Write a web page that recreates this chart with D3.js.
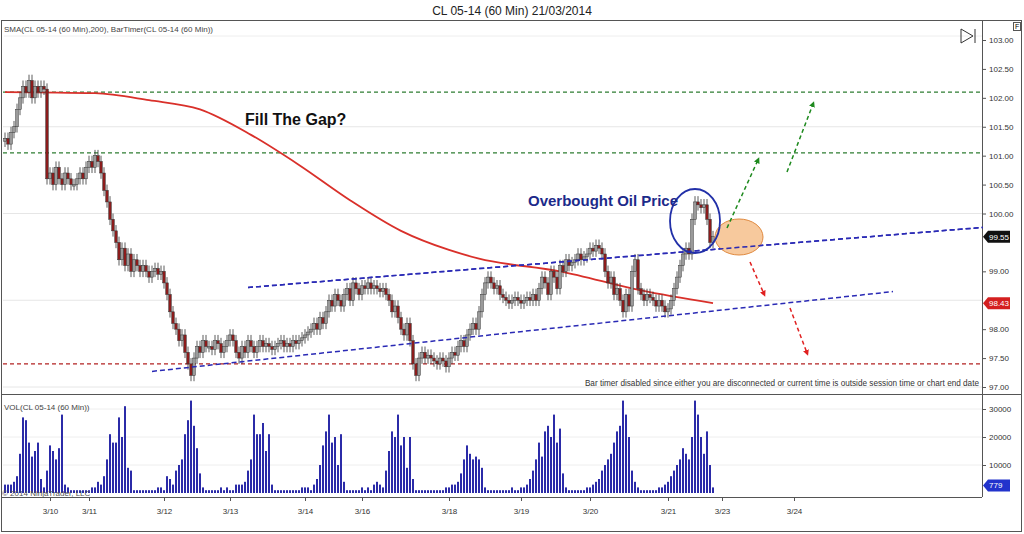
<!DOCTYPE html>
<html><head><meta charset="utf-8">
<script src="https://cdn.jsdelivr.net/npm/d3@7"></script>
<style>body{margin:0;background:#fff;font-family:Arial,"Liberation Sans",sans-serif}</style>
</head><body><svg id="c" width="1024" height="534"></svg>
<script>
const closes=[101.3,101.2,101.4,101.5,101.8,102.0,102.2,102.1,102.3,102.0,102.2,102.1,102.2,102.15,
100.6,100.7,100.5,100.8,100.6,100.5,100.7,100.6,100.5,100.5,100.6,100.7,100.6,100.8,100.9,100.8,101.0,100.9,100.7,
100.4,100.2,99.9,99.7,99.5,99.2,99.4,99.1,99.3,99.0,99.2,99.1,99.0,
99.1,99.0,98.9,99.0,99.05,98.95,99.0,98.8,
98.6,98.3,98.1,98.0,97.8,97.9,97.6,97.4,97.2,97.5,
97.7,97.6,97.8,97.7,97.7,97.65,97.8,97.75,97.6,97.7,97.8,97.9,97.8,97.6,97.5,97.7,97.6,97.8,97.7,97.6,97.7,97.8,
97.7,97.75,97.7,97.65,97.7,97.75,97.8,97.7,97.75,97.7,97.8,97.75,97.8,97.85,97.9,97.95,98.0,98.1,98.0,98.2,98.1,
98.3,98.5,98.4,98.6,98.5,98.4,98.6,98.7,98.5,98.8,98.7,98.6,
98.75,98.7,98.8,98.7,98.75,98.7,98.65,98.7,98.6,98.5,98.3,98.4,
98.2,98.0,97.9,98.1,97.8,97.4,97.2,97.5,
97.6,97.5,97.55,97.5,97.45,97.4,97.5,97.45,97.35,97.5,97.6,97.55,97.7,97.8,97.7,97.9,98.0,
98.1,98.0,98.3,98.6,98.8,98.9,98.8,98.7,98.75,98.6,
98.55,98.5,98.45,98.5,98.55,98.5,98.45,98.5,98.55,98.5,98.6,98.5,98.7,98.9,98.8,
98.6,99.0,98.9,98.7,99.1,99.0,99.2,99.1,
99.15,99.2,99.3,99.2,99.25,99.3,99.4,99.35,99.45,99.4,99.3,99.0,
98.8,98.9,98.6,98.7,98.5,98.3,98.6,98.4,99.0,99.2,98.7,
98.6,98.5,98.6,98.55,98.5,98.4,98.5,98.4,98.3,98.35,
98.5,98.7,98.9,99.1,99.3,99.4,99.3,99.9,100.2,100.15,100.1,100.15,99.9,99.5,99.6];
const volumes=[3,3,3,4,6,14,27,26,18,13,15,18,5,2,8,17,15,12,16,28,3,2,1,1,1,1,1,1,1,2,
2,4,3,6,12,21,18,18,27,20,31,9,8,1,1,1,1,1,1,1,1,2,2,1,6,5,3,8,10,12,
21,26,33,24,16,7,2,1,1,1,1,1,2,1,2,1,1,3,3,3,4,8,12,28,21,21,25,15,21,3,
1,1,1,1,1,1,1,1,1,2,2,2,1,3,5,10,17,22,28,18,20,10,21,4,1,1,1,1,1,2,
1,2,1,3,4,3,2,8,15,22,20,28,17,20,9,20,5,1,1,1,1,1,1,1,1,1,1,2,2,3,
3,4,7,12,17,14,12,13,12,9,2,1,1,1,1,1,1,1,1,2,1,1,2,2,3,5,8,12,18,13,
22,24,20,28,18,23,7,2,1,1,1,1,1,1,2,2,3,4,5,8,10,12,14,18,22,24,33,28,20,8,
4,2,1,1,1,1,1,1,2,2,3,4,6,8,10,12,16,14,12,20,33,28,20,14,22,10,2];
const dateLabels=["3/10","3/11","3/12","3/13","3/14","3/16","3/18","3/19","3/20","3/21","3/23","3/24"];
const dateIdx=[15,28,53,75,100,119,148,172,195,221,239,263];
const smaIdx=[0,30,48,65,82,98,115,132,148,158,185,212,236];
const smaVal=[102.1,102.08,101.96,101.8,101.36,100.84,100.23,99.7,99.37,99.22,99.0,98.67,98.45];
const priceTicks=[103,102.5,102,101.5,101,100.5,100,99,98,97.5,97];
const gridPrices=[101.5,100,98.5,97];
const volTicks=[30000,20000,10000];
const levels=[{p:102.1,c:"#2e7d32"},{p:101.05,c:"#2e7d32"},{p:97.4,c:"#b22222"}];
const channels=[[81,98.72,326,99.76],[49,97.27,296,98.65]];

const svg=d3.select("#c");
const X1=982,PB=394,VB=497;
const x=d3.scaleLinear().domain([0,236]).range([5,713]);
const y=d3.scaleLinear().domain([97,103]).range([387,40]);
const yv=d3.scaleLinear().domain([0,30000]).range([493,409]);

svg.append("text").attr("x",512).attr("y",15).attr("text-anchor","middle").attr("font-size",12).attr("fill","#222").text("CL 05-14 (60 Min)  21/03/2014");
svg.append("rect").attr("x",1.5).attr("y",20.5).attr("width",1020).attr("height",511).attr("fill","none").attr("stroke","#555");
svg.append("line").attr("x1",X1+0.5).attr("x2",X1+0.5).attr("y1",20).attr("y2",VB).attr("stroke","#555");
svg.append("line").attr("x1",2).attr("x2",1022).attr("y1",PB+0.5).attr("y2",PB+0.5).attr("stroke","#555");
svg.append("line").attr("x1",2).attr("x2",X1).attr("y1",VB+0.5).attr("y2",VB+0.5).attr("stroke","#555");
svg.append("line").attr("x1",4).attr("x2",X1).attr("y1",36).attr("y2",36).attr("stroke","#eee");
gridPrices.forEach(p=>svg.append("line").attr("x1",3).attr("x2",X1).attr("y1",y(p)).attr("y2",y(p)).attr("stroke","#e6e6e6"));
volTicks.forEach(v=>svg.append("line").attr("x1",3).attr("x2",X1).attr("y1",yv(v)).attr("y2",yv(v)).attr("stroke","#eee"));

const ya=d3.axisRight(y).tickValues(priceTicks).tickFormat(d3.format(".2f")).tickSize(4);
const ga=svg.append("g").attr("transform",`translate(${X1},0)`).call(ya);
const va=d3.axisRight(yv).tickValues(volTicks).tickFormat(d3.format("d")).tickSize(4);
const gv=svg.append("g").attr("transform",`translate(${X1},0)`).call(va);
const xa=d3.axisBottom(x).tickValues(dateIdx).tickFormat((d,i)=>dateLabels[i]).tickSize(4);
const gx=svg.append("g").attr("transform",`translate(0,${VB})`).call(xa);
[ga,gv,gx].forEach(g=>{g.select(".domain").remove();g.selectAll("line").attr("stroke","#555");g.selectAll("text").attr("font-size",8).attr("fill","#333").attr("font-family","Arial");});
gx.selectAll("text").attr("dy","1.2em");

levels.forEach(l=>svg.append("line").attr("x1",3).attr("x2",X1).attr("y1",y(l.p)).attr("y2",y(l.p)).attr("stroke",l.c).attr("stroke-width",1.3).attr("stroke-dasharray","4,3"));

svg.append("path").datum(smaIdx.map((d,i)=>[d,smaVal[i]])).attr("fill","none").attr("stroke","#d9302a").attr("stroke-width",1.8)
 .attr("d",d3.line().x(d=>x(d[0])).y(d=>y(d[1])).curve(d3.curveMonotoneX));

const bars=closes.map((c,i)=>{const o=i?closes[i-1]:c-0.05;return{i,o,c,h:Math.max(o,c)+0.1,l:Math.min(o,c)-0.1};});
const cg=svg.append("g");
cg.selectAll("line").data(bars).join("line").attr("x1",d=>x(d.i)).attr("x2",d=>x(d.i)).attr("y1",d=>y(d.h)).attr("y2",d=>y(d.l)).attr("stroke","#333").attr("stroke-width",0.8);
cg.selectAll("rect").data(bars).join("rect").attr("x",d=>x(d.i)-1.3).attr("width",2.6)
 .attr("y",d=>y(Math.max(d.o,d.c))).attr("height",d=>Math.max(1.5,Math.abs(y(d.o)-y(d.c))))
 .attr("fill",d=>d.c>=d.o?"#9a9a9a":"#8b1c1c").attr("stroke","#333").attr("stroke-width",0.5);

channels.forEach(c=>svg.append("line").attr("x1",x(c[0])).attr("y1",y(c[1])).attr("x2",x(c[2])).attr("y2",y(c[3])).attr("stroke","#2a2ab5").attr("stroke-width",1.5).attr("stroke-dasharray","5,3"));

svg.append("g").selectAll("rect").data(volumes).join("rect").attr("x",(d,i)=>x(i)-1).attr("width",2).attr("y",d=>yv(d*1000)).attr("height",d=>yv(0)-yv(d*1000)).attr("fill","#2b2ba8");

svg.append("ellipse").attr("cx",739).attr("cy",237).attr("rx",24).attr("ry",18).attr("fill","#f6c08c").attr("fill-opacity",0.85).attr("stroke","#e08a40");
svg.append("line").attr("x1",x(channels[0][0])).attr("y1",y(channels[0][1])).attr("x2",x(channels[0][2])).attr("y2",y(channels[0][3])).attr("stroke","#2a2ab5").attr("stroke-width",1.5).attr("stroke-dasharray","5,3");
svg.append("ellipse").attr("cx",695).attr("cy",221).attr("rx",25).attr("ry",32).attr("fill","none").attr("stroke","#2230a8").attr("stroke-width",1.8);
const defs=svg.append("defs");
[["g","#1e8a1e"],["r","#e02020"]].forEach(([id,c])=>defs.append("marker").attr("id",id).attr("viewBox","0 0 10 10").attr("refX",5).attr("refY",5).attr("markerWidth",4).attr("markerHeight",4).attr("orient","auto").append("path").attr("d","M0,0L10,5L0,10z").attr("fill",c));
[[727,228,758,160,"g","#1e8a1e"],[787,172,813,104,"g","#1e8a1e"],[750,262,764,294,"r","#e02020"],[790,308,807,353,"r","#e02020"]].forEach(a=>
 svg.append("line").attr("x1",a[0]).attr("y1",a[1]).attr("x2",a[2]).attr("y2",a[3]).attr("stroke",a[5]).attr("stroke-width",1.5).attr("stroke-dasharray","4,3").attr("marker-end",`url(#${a[4]})`));
svg.append("text").attr("x",245).attr("y",125).attr("font-size",16).attr("font-weight","bold").attr("fill","#111").text("Fill The Gap?");
svg.append("text").attr("x",528).attr("y",206).attr("font-size",15).attr("font-weight","bold").attr("fill","#1c2a8a").text("Overbought Oil Price");
svg.append("text").attr("x",4).attr("y",32).attr("font-size",8).attr("fill","#444").text("SMA(CL 05-14 (60 Min),200), BarTimer(CL 05-14 (60 Min))");
svg.append("text").attr("x",979).attr("y",386).attr("text-anchor","end").attr("font-size",8.2).attr("fill","#333").text("Bar timer disabled since either you are disconnected or current time is outside session time or chart end date");
svg.append("text").attr("x",4).attr("y",410).attr("font-size",8).attr("fill","#444").text("VOL(CL 05-14 (60 Min))");
svg.append("text").attr("x",2).attr("y",496).attr("font-size",8).attr("fill","#555").text("© 2014 NinjaTrader, LLC");
svg.append("path").attr("d","M961,29L961,43L973,36Z").attr("fill","none").attr("stroke","#333");
svg.append("line").attr("x1",975).attr("x2",975).attr("y1",29).attr("y2",43).attr("stroke","#333");
svg.append("rect").attr("x",1013.5).attr("y",22.5).attr("width",7).attr("height",8).attr("fill","#fff").attr("stroke","#555");
svg.append("text").attr("x",1015).attr("y",29).attr("font-size",7).text("F");
function tag(yy,c,txt){svg.append("path").attr("d",`M983,${yy}L988,${yy-6}L1010,${yy-6}L1010,${yy+6}L988,${yy+6}Z`).attr("fill",c);
 svg.append("text").attr("x",989).attr("y",yy+3).attr("font-size",8).attr("fill","#fff").text(txt);}
tag(y(closes[closes.length-1]),"#111","99.55");
tag(y(smaVal[smaVal.length-1]),"#d42020","98.43");
tag(yv(volumes[volumes.length-1]*1000)-2,"#2233cc","779");
</script></body></html>
